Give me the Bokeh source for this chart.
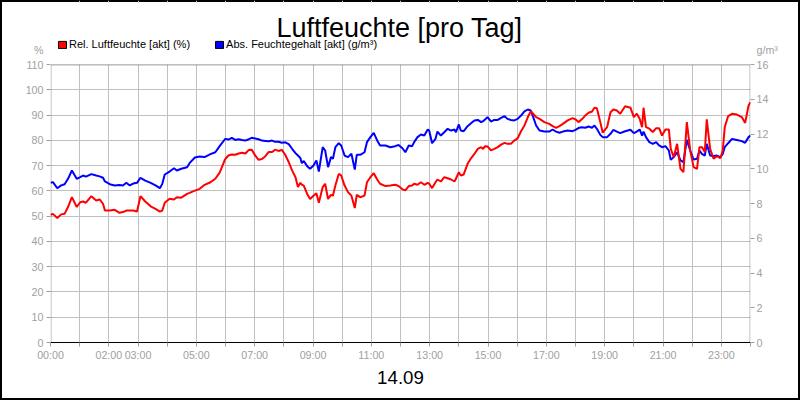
from bokeh.plotting import figure
from bokeh.models import (Range1d, LinearAxis, FixedTicker, Label, Legend, LegendItem,
                          BoxAnnotation)
from bokeh.embed import file_html
from bokeh.resources import INLINE

# ---- data ----
# time of day in minutes since 00:00
minutes = [
    0, 5, 14, 22, 29, 36, 44, 54, 61, 67, 73, 84, 94, 101, 108, 112, 122, 132, 142, 149,
    156, 163, 170, 178, 185, 195, 206, 216, 225, 230, 235, 245, 254, 260, 269, 281, 286, 297, 307, 317,
    329, 339, 348, 358,
    360, 366, 373, 380, 387, 394, 401, 408, 414, 421, 428, 435, 442, 449, 456, 462, 469, 476, 483, 490,
    497, 504, 509, 514, 517, 521, 528, 534, 541, 547, 552, 560, 565, 571, 577, 581, 586, 593, 598, 605,
    612, 619, 626, 630, 637, 646, 651, 658, 665, 672, 678, 689, 699, 709, 716,
    724, 730, 737, 744, 748, 755, 762, 769, 776, 779, 785, 792, 796, 803, 810, 817, 824, 831, 834, 840,
    844, 850, 858, 865, 872, 879, 886, 890, 894, 899, 906, 913, 920, 927, 934, 940, 947, 954, 961, 968,
    975, 982, 988, 993, 999, 1006, 1016, 1026, 1033, 1040, 1047, 1054, 1064, 1074,
    1080, 1086, 1093, 1100, 1107, 1114, 1119, 1124, 1131, 1136, 1145, 1152, 1158, 1165, 1172, 1182, 1193, 1200, 1206, 1212,
    1217, 1220, 1225, 1232, 1239, 1246, 1252, 1258, 1265, 1272, 1276, 1282, 1289, 1296, 1302, 1309, 1316, 1323, 1330, 1335,
    1340, 1346, 1350, 1357, 1364, 1371, 1378, 1383, 1387, 1394, 1402, 1412, 1422, 1429, 1436, 1440,
]

# Rel. Luftfeuchte (%)
rel_humidity = [
    50.5, 50.9, 49.3, 50.7, 50.9, 53.6, 57.5, 53.6, 55.5, 55.8, 55.3, 57.9, 56.2, 56.6, 54.9, 52.2, 52.2, 52.5, 51.3, 51.6,
    52.2, 52.2, 52.2, 51.8, 57.9, 55.8, 53.9, 52.9, 51.8, 52.2, 55.3, 56.9, 56.6, 57.5, 57.3, 58.8, 59.2, 60.1, 60.8, 62.4,
    63.4, 64.8, 67.2, 72.0,
    72.7, 74.0, 74.4, 74.3, 74.8, 75.1, 74.8, 76.2, 76.3, 74.0, 72.3, 72.6, 73.7, 75.4, 75.4, 76.3, 75.8, 76.2, 74.2, 71.4,
    68.1, 65.4, 61.5, 63.2, 62.5, 62.1, 58.8, 56.8, 58.1, 59.1, 55.3, 61.5, 62.8, 56.8, 58.4, 58.1, 62.1, 66.7, 66.1, 62.1,
    59.5, 58.1, 53.2, 58.4, 57.5, 58.1, 63.4, 65.4, 67.0, 64.5, 62.8, 61.9, 62.1, 62.4, 61.9,
    60.6, 60.2, 61.9, 62.1, 62.8, 62.4, 63.4, 62.4, 63.2, 62.8, 61.1, 63.4, 64.5, 63.7, 65.4, 65.0, 64.5, 63.7, 64.8, 67.4,
    66.1, 66.5, 70.7, 72.9, 74.6, 76.6, 77.3, 76.6, 77.7, 77.6, 76.0, 76.6, 77.3, 78.3, 79.0, 78.6, 78.6, 79.9, 80.8, 83.6,
    85.9, 89.2, 91.5, 90.5, 89.2, 88.5, 87.2, 86.5, 85.6, 84.9, 85.6, 86.5, 87.9, 88.8,
    88.3, 87.2, 88.3, 89.8, 90.9, 91.4, 92.9, 92.7, 87.2, 83.0, 85.2, 91.1, 92.2, 91.8, 90.5, 93.5, 92.9, 89.2, 90.5, 88.5,
    85.2, 92.9, 85.2, 84.6, 83.3, 84.8, 84.8, 81.9, 84.3, 84.3, 76.6, 73.3, 78.6, 68.7, 67.4, 87.2, 76.0, 69.4, 68.7, 77.3,
    77.3, 75.4, 88.3, 76.6, 72.7, 73.7, 72.9, 76.0, 85.2, 89.6, 90.5, 90.2, 89.2, 86.9, 93.8, 95.1,
]

# Abs. Feuchtegehalt (g/m³)
abs_humidity = [
    9.19, 9.23, 8.88, 9.04, 9.11, 9.42, 9.90, 9.42, 9.52, 9.61, 9.55, 9.69, 9.61, 9.56, 9.48, 9.27, 9.11, 9.04, 9.07, 9.04,
    9.19, 9.04, 9.15, 9.19, 9.48, 9.32, 9.19, 9.04, 8.88, 9.13, 9.67, 9.84, 10.03, 9.90, 10.00, 10.09, 10.32, 10.65, 10.71, 10.67,
    10.84, 10.95, 11.30, 11.67,
    11.72, 11.68, 11.78, 11.66, 11.70, 11.65, 11.62, 11.70, 11.78, 11.74, 11.70, 11.62, 11.60, 11.58, 11.62, 11.55, 11.55, 11.50, 11.52, 11.42,
    11.15, 10.90, 10.76, 10.62, 10.32, 10.45, 10.15, 10.00, 10.19, 10.48, 9.84, 11.24, 11.05, 10.09, 10.67, 10.57, 11.24, 11.47, 11.34, 10.76,
    10.67, 10.86, 9.95, 10.80, 10.80, 10.95, 11.53, 11.82, 12.07, 11.63, 11.34, 11.34, 11.24, 11.30, 11.37,
    11.18, 10.95, 11.34, 11.30, 11.53, 11.82, 11.97, 11.91, 12.26, 12.20, 11.47, 11.72, 12.14, 11.91, 12.10, 12.30, 12.20, 12.26, 12.10, 12.55,
    12.20, 12.16, 12.45, 12.62, 12.78, 12.81, 12.68, 12.74, 12.83, 12.97, 12.72, 12.81, 12.81, 12.93, 13.03, 12.87, 12.81, 12.78, 12.87, 13.06,
    13.30, 13.41, 13.35, 12.97, 12.49, 12.20, 12.14, 12.14, 12.26, 12.14, 12.07, 12.14, 12.20, 12.16,
    12.24, 12.34, 12.39, 12.36, 12.43, 12.36, 12.49, 12.30, 11.95, 11.82, 11.82, 12.01, 12.24, 12.14, 12.05, 12.16, 12.24, 12.05, 12.14, 12.26,
    11.91, 12.14, 11.82, 11.53, 11.43, 11.53, 11.34, 11.24, 11.30, 11.05, 10.51, 10.67, 10.95, 10.48, 10.38, 11.66, 11.05, 10.53, 10.57, 11.05,
    10.86, 10.76, 11.43, 10.76, 10.73, 10.76, 10.67, 10.86, 11.24, 11.47, 11.72, 11.66, 11.59, 11.49, 11.82, 11.91,
]

x_tick_minutes = list(range(0, 1441, 60))
x_labelled_hours = [0, 2, 3, 5, 7, 9, 11, 13, 15, 17, 19, 21, 23]
left_ticks = list(range(0, 111, 10))
right_ticks = list(range(0, 17, 2))
LEFT_MAX = 110
RIGHT_MAX = 16

title_text = "Luftfeuchte [pro Tag]"
date_text = "14.09"
rel_label = "Rel. Luftfeuchte [akt] (%)"
abs_label = "Abs. Feuchtegehalt [akt] (g/m³)"
left_unit = "%"
right_unit = "g/m³"

# ---- layout (page pixels) ----
# plot box: x 50..750, y 64..342; the frame is extended up to the top edge
# so that title, legend and unit captions can live inside it.
FRAME_TOP_PX, PLOT_TOP_PX, PLOT_BOTTOM_PX = 0, 64, 342
PLOT_H = PLOT_BOTTOM_PX - PLOT_TOP_PX
FRAME_H = PLOT_BOTTOM_PX - FRAME_TOP_PX
left_top = LEFT_MAX * FRAME_H / PLOT_H
right_top = RIGHT_MAX * FRAME_H / PLOT_H


def xd(px):
    return (px - 50) / 700 * 1440


def yd(py):
    return (PLOT_BOTTOM_PX - py) / PLOT_H * LEFT_MAX


def yr(py):
    return (PLOT_BOTTOM_PX - py) / PLOT_H * RIGHT_MAX


FONT = "Liberation Sans"
GRAY = "#a0a0a0"
GRID = "#c0c0c0"
RED = "#ff0000"
BLUE = "#0000ff"
NAN = float("nan")

p = figure(width=800, height=400,
           x_range=Range1d(0, 1440), y_range=Range1d(0, left_top),
           output_backend="svg", toolbar_location=None,
           min_border_left=50, min_border_right=50,
           min_border_top=0, min_border_bottom=58)
p.title.visible = False
p.extra_y_ranges = {"abs": Range1d(0, right_top)}
# transparent canvas so that the page outline (outer frame) stays visible
p.background_fill_alpha = 0
p.border_fill_alpha = 0
p.outline_line_color = None
p.styles = {"outline": "2px solid black", "outline-offset": "-2px", "background-color": "white"}

# x axis
xt = FixedTicker(ticks=x_tick_minutes)
p.xaxis.ticker = xt
p.xaxis.major_label_overrides = {
    m: (f"{m // 60:02d}:00" if (m // 60) in x_labelled_hours and m < 1440 else "")
    for m in x_tick_minutes
}

# y axes: labelled major ticks (invisible marks) + visible short minor marks
unit_y_left = yd(49)
unit_y_right = yr(49)
p.yaxis.ticker = FixedTicker(ticks=left_ticks + [unit_y_left], minor_ticks=left_ticks)
p.yaxis.major_label_overrides = {unit_y_left: left_unit}
right_axis = LinearAxis(y_range_name="abs",
                        ticker=FixedTicker(ticks=right_ticks + [unit_y_right], minor_ticks=right_ticks))
right_axis.major_label_overrides = {unit_y_right: right_unit}
p.add_layout(right_axis, "right")

for ax in (p.xaxis[0], p.yaxis[0], right_axis):
    ax.major_label_text_font = FONT
    ax.major_label_text_font_size = "10.7px"
    ax.major_label_text_color = GRAY
    ax.major_tick_out = 4
    ax.major_tick_in = 0
    ax.axis_line_width = 1
for ax in (p.yaxis[0], right_axis):
    ax.major_tick_line_color = None
    ax.minor_tick_line_color = GRAY
    ax.minor_tick_out = 4
    ax.minor_tick_in = 0
    ax.axis_line_color = None
p.yaxis.major_label_standoff = 3
right_axis.major_label_standoff = 2
p.xaxis.major_tick_line_color = GRAY
p.xaxis.minor_tick_line_color = None
p.xaxis.axis_line_color = "black"
p.xaxis.major_label_standoff = 2

p.xaxis.axis_label = date_text
p.xaxis.axis_label_text_font = FONT
p.xaxis.axis_label_text_font_size = "18.7px"
p.xaxis.axis_label_text_font_style = "normal"
p.xaxis.axis_label_text_color = "black"
p.xaxis.axis_label_standoff = 7

p.xgrid.ticker = xt
p.xgrid.grid_line_color = GRID
p.ygrid.grid_line_color = GRID
p.xgrid.grid_line_width = 1
p.ygrid.grid_line_width = 1

p.line(minutes, abs_humidity, y_range_name="abs", line_color=BLUE, line_width=2)
p.line(minutes, rel_humidity, line_color=RED, line_width=2)

# blank out the grid above the plot box (leaving the outer frame line free),
# then draw the plot box border
p.add_layout(BoxAnnotation(bottom=LEFT_MAX, top=yd(2), fill_color="white", fill_alpha=1,
                           line_alpha=0))
half_x = 0.5 * 1440 / 700
half_y = 0.5 * LEFT_MAX / PLOT_H
p.add_layout(BoxAnnotation(left=half_x, right=1440 - half_x, bottom=0, top=LEFT_MAX - half_y,
                           fill_alpha=0, line_color="black", line_width=1))

# legend squares (renderers without drawable data, shown only in the legend)
sq_r = p.quad(left=[NAN], right=[NAN], top=[NAN], bottom=[NAN], fill_color=RED, line_color="black")
sq_b = p.quad(left=[NAN], right=[NAN], top=[NAN], bottom=[NAN], fill_color=BLUE, line_color="black")
legend = Legend(items=[LegendItem(label=rel_label, renderers=[sq_r]),
                       LegendItem(label=abs_label, renderers=[sq_b])],
                location=(7, 292), orientation="horizontal",
                background_fill_alpha=0, border_line_alpha=0,
                padding=0, margin=0, spacing=24, label_standoff=2,
                glyph_width=10, glyph_height=9, label_height=12,
                label_text_font=FONT, label_text_font_size="11px",
                label_text_color="black")
p.add_layout(legend)

p.add_layout(Label(x=xd(399), y=yd(27), text=title_text, text_align="center",
                   text_baseline="alphabetic", text_font=FONT, text_font_size="27px",
                   text_color="black"))

open("out.html", "w").write(file_html(p, INLINE))
